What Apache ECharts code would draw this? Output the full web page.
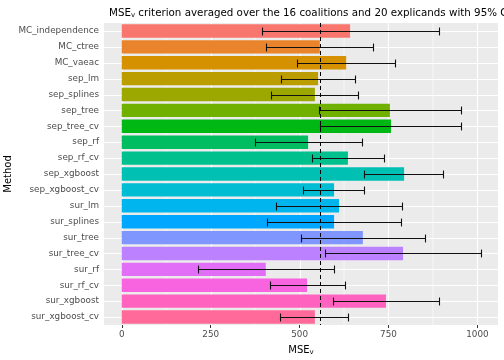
<!DOCTYPE html>
<html><head><meta charset="utf-8">
<script src="https://cdn.jsdelivr.net/npm/echarts@6/dist/echarts.min.js"></script>
<style>html,body{margin:0;padding:0;background:#fff}#c{width:504px;height:360px}</style>
</head><body><div id="c"></div>
<script>
const methods = ["MC_independence","MC_ctree","MC_vaeac","sep_lm","sep_splines","sep_tree","sep_tree_cv","sep_rf","sep_rf_cv","sep_xgboost","sep_xgboost_cv","sur_lm","sur_splines","sur_tree","sur_tree_cv","sur_rf","sur_rf_cv","sur_xgboost","sur_xgboost_cv"];
const mse    = [642,557,631,552,543,754,757,524,636,794,597,611,597,678,791,405,521,743,543];
const ciLow  = [394,406,493,447,421,556,557,374,536,682,509,434,409,503,571,215,416,594,446];
const ciHigh = [892,706,768,655,663,953,954,675,737,904,682,788,785,853,1009,598,628,892,637];
const refValue = 557;
const xTicks = [0,250,500,750,1000];
const xMinor = [125,375,625,875];

function hcl(h,c,l){
  const hr=h*Math.PI/180, U=c*Math.cos(hr), V=c*Math.sin(hr);
  const Xn=95.047,Yn=100,Zn=108.883, den=Xn+15*Yn+3*Zn, un=4*Xn/den, vn=9*Yn/den;
  const Y=Yn*Math.pow((l+16)/116,3), u=U/(13*l)+un, v=V/(13*l)+vn;
  const X=9*Y*u/(4*v), Z=-X/3-5*Y+3*Y/v;
  const x=X/100,y=Y/100,z=Z/100;
  let rgb=[3.240479*x-1.537150*y-0.498535*z,-0.969256*x+1.875992*y+0.041556*z,0.055648*x-0.204043*y+1.057311*z];
  rgb=rgb.map(t=>{t=t<=0.0031308?12.92*t:1.055*Math.pow(t,1/2.4)-0.055;t=Math.max(0,Math.min(1,t));return Math.round(t*255);});
  return 'rgb('+rgb.join(',')+')';
}
const n=methods.length;
const colors=methods.map((m,i)=>hcl(15+i*360/n,100,65));

const font='DejaVu Sans';
const chart=echarts.init(document.getElementById('c'));

chart.setOption({
  animation:false,
  title:{text:'{a|MSE}{s|v}{a| criterion averaged over the 16 coalitions and 20 explicands with 95% CI}',left:104,top:2,
    textStyle:{fontWeight:'normal',rich:{a:{fontFamily:font,fontSize:10.3,fontWeight:'normal',color:'#000'},s:{fontFamily:font,fontSize:7,fontWeight:'normal',color:'#000',padding:[5,0,0,0]}}}},
  grid:{left:104,right:6,top:23,bottom:35,show:false,containLabel:false,outerBoundsMode:'none'},
  xAxis:{type:'value',min:-50,max:1058,
    name:'{a|MSE}{s|v}',nameLocation:'middle',nameGap:19,nameMoveOverlap:false,
    nameTextStyle:{rich:{a:{fontFamily:font,fontSize:10,color:'#000'},s:{fontFamily:font,fontSize:7,color:'#000',padding:[5,0,0,0]}}},
    axisLine:{show:false},splitLine:{show:false},
    axisTick:{show:true,length:3,lineStyle:{color:'#333'},customValues:xTicks},
    axisLabel:{customValues:xTicks,formatter:v=>String(v),color:'#4D4D4D',fontFamily:font,fontSize:8.8,margin:5}},
  yAxis:{type:'category',data:methods,inverse:true,
    name:'Method',nameLocation:'middle',nameGap:91,nameRotate:90,nameMoveOverlap:false,
    nameTextStyle:{fontFamily:font,fontSize:10,color:'#000'},
    axisLine:{show:false},splitLine:{show:false},
    axisTick:{show:true,length:3,alignWithLabel:true,lineStyle:{color:'#333'}},
    axisLabel:{color:'#4D4D4D',fontFamily:font,fontSize:8.8,margin:5}},
  series:[
    {type:'custom',z:1,silent:true,clip:false,
      data:[[0,0]],encode:{x:0,y:1},
      renderItem:(params,api)=>{
        const cs=params.coordSys;
        const kids=[{type:'rect',shape:{x:cs.x,y:cs.y,width:cs.width,height:cs.height},style:{fill:'#EBEBEB'}}];
        xMinor.forEach(v=>{const x=api.coord([v,0])[0];
          kids.push({type:'line',shape:{x1:x,y1:cs.y,x2:x,y2:cs.y+cs.height},style:{stroke:'#fff',lineWidth:0.6}});});
        xTicks.forEach(v=>{const x=Math.round(api.coord([v,0])[0])+0.5;
          kids.push({type:'line',shape:{x1:x,y1:cs.y,x2:x,y2:cs.y+cs.height},style:{stroke:'#fff',lineWidth:1.1}});});
        methods.forEach((m,i)=>{const y=Math.round(api.coord([0,i])[1])+0.5;
          kids.push({type:'line',shape:{x1:cs.x,y1:y,x2:cs.x+cs.width,y2:y},style:{stroke:'#fff',lineWidth:1.1}});});
        return {type:'group',children:kids};
      }},
    {type:'bar',data:mse,z:4,barWidth:13.4,silent:true,
      itemStyle:{color:p=>colors[p.dataIndex]}},
    {type:'custom',z:6,silent:true,
      data:methods.map((m,i)=>[i,ciLow[i],ciHigh[i]]),
      encode:{x:[1,2],y:0},
      renderItem:(params,api)=>{
        const y=api.value(0);
        const p1=api.coord([api.value(1),y]), p2=api.coord([api.value(2),y]);
        const h=api.size([0,1])[1]*0.25;
        const yy=Math.round(p1[1])+0.5;
        const x1=Math.round(p1[0])+0.5, x2=Math.round(p2[0])+0.5;
        const st={stroke:'#111',lineWidth:1.1};
        return {type:'group',children:[
          {type:'line',shape:{x1:x1,y1:yy,x2:x2,y2:yy},style:st},
          {type:'line',shape:{x1:x1,y1:yy-h,x2:x1,y2:yy+h},style:st},
          {type:'line',shape:{x1:x2,y1:yy-h,x2:x2,y2:yy+h},style:st}
        ]};
      }},
    {type:'line',data:[],z:7,silent:true,
      markLine:{z:7,silent:true,symbol:'none',label:{show:false},animation:false,
        data:[{xAxis:refValue}],lineStyle:{color:'#000',type:[4,3],width:1}}}
  ]
});
</script></body></html>
